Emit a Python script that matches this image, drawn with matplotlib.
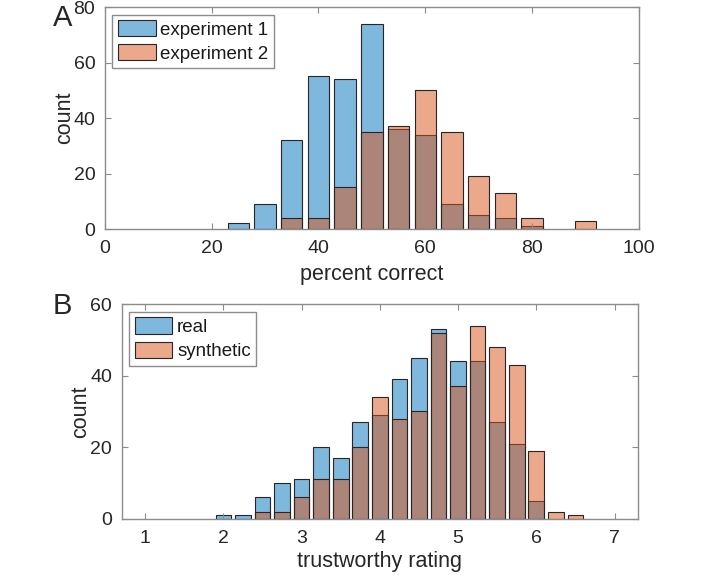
import numpy as np
import matplotlib
matplotlib.use('Agg')
import matplotlib.pyplot as plt

plt.rcParams['font.family'] = ['Liberation Sans', 'DejaVu Sans']

# panel A: percent correct histograms (bin centres, counts)
pct_centers = [25, 30, 35, 40, 45, 50, 55, 60, 65, 70, 75, 80, 85, 90]
exp1_counts = [2, 9, 32, 55, 54, 74, 36, 34, 9, 5, 4, 1, 0, 0]
exp2_counts = [0, 0, 4, 4, 15, 35, 37, 50, 35, 19, 13, 4, 0, 3]

# panel B: trustworthy rating histograms
rating_centers = [2.0, 2.25, 2.5, 2.75, 3.0, 3.25, 3.5, 3.75, 4.0, 4.25,
                  4.5, 4.75, 5.0, 5.25, 5.5, 5.75, 6.0, 6.25, 6.5]
real_counts = [1, 1, 6, 10, 11, 20, 17, 27, 29, 39,
               45, 53, 44, 44, 27, 21, 5, 0, 0]
synth_counts = [0, 0, 2, 2, 6, 11, 11, 20, 34, 28,
                30, 52, 37, 54, 48, 43, 19, 2, 1]

blue = (0.0, 0.447, 0.741, 0.5)
orange = (0.85, 0.325, 0.098, 0.5)
txt = '0.15'
spine = '0.55'

fig = plt.figure(figsize=(7.08, 5.75), dpi=100)


def hist_bars(ax, centers, counts, width, color, label):
    c = np.array(centers)
    n = np.array(counts)
    keep = n > 0
    ax.bar(c[keep], n[keep], width=width, color=color, edgecolor='0.15',
           linewidth=0.8, label=label)


def style(ax):
    for s in ax.spines.values():
        s.set_color(spine)
        s.set_linewidth(1.0)
    ax.tick_params(direction='in', length=4, width=0.8, color=spine,
                   labelsize=14, labelcolor=txt, top=True, right=True)
    ax.tick_params(axis='x', pad=8)
    ax.tick_params(axis='y', pad=7)


def add_legend(ax):
    leg = ax.legend(loc='upper left', fontsize=13.5, fancybox=False,
                    edgecolor=spine, framealpha=1, handlelength=2.0,
                    handleheight=0.95, handletextpad=0.25, labelspacing=0.3,
                    borderpad=0.3, borderaxespad=0.4)
    leg.get_frame().set_linewidth(1.0)
    for t in leg.get_texts():
        t.set_color('0.1')


axA = fig.add_axes([0.1483, 0.6017, 0.7538, 0.3861])
hist_bars(axA, pct_centers, exp1_counts, 4, blue, 'experiment 1')
hist_bars(axA, pct_centers, exp2_counts, 4, orange, 'experiment 2')
axA.set_xlim(0, 100)
axA.set_ylim(0, 80)
axA.set_xticks([0, 20, 40, 60, 80, 100])
axA.set_yticks([0, 20, 40, 60, 80])
axA.set_xlabel('percent correct', fontsize=15.5, color=txt, labelpad=5)
axA.set_ylabel('count', fontsize=15.5, color=txt, labelpad=-1)
style(axA)
add_legend(axA)

axB = fig.add_axes([0.1719, 0.0979, 0.7292, 0.3729])
hist_bars(axB, rating_centers, real_counts, 0.2, blue, 'real')
hist_bars(axB, rating_centers, synth_counts, 0.2, orange, 'synthetic')
axB.set_xlim(0.7, 7.3)
axB.set_ylim(0, 60)
axB.set_xticks([1, 2, 3, 4, 5, 6, 7])
axB.set_yticks([0, 20, 40, 60])
axB.set_xlabel('trustworthy rating', fontsize=15.5, color=txt, labelpad=3)
axB.set_ylabel('count', fontsize=15.5, color=txt, labelpad=-1)
style(axB)
add_legend(axB)

fig.text(53 / 708, 1 - 4 / 575, 'A', fontsize=21, color=txt, ha='left', va='top')
fig.text(53 / 708, 1 - 292 / 575, 'B', fontsize=21, color=txt, ha='left', va='top')

fig.savefig('out.png', dpi=100)
